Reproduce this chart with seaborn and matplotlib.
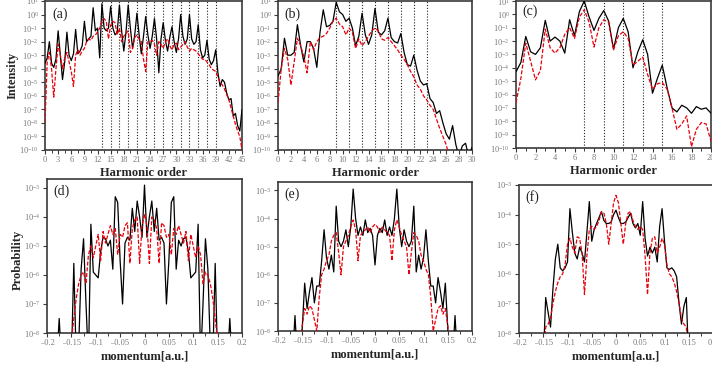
import numpy as np
import matplotlib
matplotlib.use("Agg")
import matplotlib.pyplot as plt
import seaborn as sns
from matplotlib.ticker import (FixedLocator, MultipleLocator, NullLocator,
                               LogFormatterMathtext, FuncFormatter)

# ---------------------------------------------------------------- data
# Harmonic spectra, log10 of intensity, sampled every half harmonic order
harm_a = np.arange(0, 45.5, 0.5)
a_black = [
    -3.6, -3.2, -2.0, -3.6, -3.9, -3.3, -1.2, -3.0, -4.8, -3.5,
    -1.3, -3.0, -3.4, -2.9, -1.1, -2.9, -2.7, -2.3, -0.5, -2.0,
    -1.8, -1.6, 0.5, -1.2, -1.0, -3.2, 0.8, -1.0, -1.2, -1.0,
    0.6, -1.0, -1.5, -1.3, 0.7, -1.2, -2.7, -1.3, 0.7, -1.0,
    -2.5, -1.5, 0.1, -1.5, -2.9, -1.6, -0.15, -1.5, -2.5, -1.6,
    -0.3, -1.8, -4.3, -1.8, -0.6, -1.9, -2.7, -1.7, -0.9, -2.0,
    -2.8, -1.8, 0.0, -1.6, -2.2, -1.8, 0.0, -1.8, -2.2, -2.0,
    -0.75, -2.6, -3.2, -3.0, -1.9, -3.3, -3.7, -3.4, -2.6, -4.3,
    -5.3, -4.8, -5.0, -5.8, -6.3, -6.2, -7.5, -7.3, -8.2, -8.6,
    -7.0,
]
a_red = [
    -8.0, -3.5, -2.8, -4.0, -6.1, -4.0, -2.2, -3.0, -4.0, -3.2,
    -2.8, -3.5, -4.2, -5.3, -3.0, -2.6, -3.0, -2.7, -2.5, -2.0,
    -1.8, -1.9, -1.6, -1.5, -1.3, -1.0, -0.5, -0.3, -0.5, -1.8,
    -0.8, -0.5, -0.6, -1.5, -1.0, -2.0, -1.6, -1.4, -1.2, -2.8,
    -2.5, -1.7, -1.5, -1.8, -2.0, -3.3, -4.2, -2.0, -2.0, -1.9,
    -2.2, -3.0, -2.0, -2.2, -2.5, -2.0, -1.8, -2.3, -2.6, -2.2,
    -2.1, -2.6, -2.4, -2.2, -2.0, -2.4, -2.7, -2.5, -2.6, -2.7,
    -2.9, -3.1, -3.3, -3.3, -3.5, -3.7, -4.0, -4.1, -4.2, -4.6,
    -5.0, -5.2, -5.5, -5.9, -6.3, -6.9, -7.5, -8.1, -8.6, -9.0,
    -10.0,
]
a_marks = [13, 15, 17, 19, 21, 23, 25, 27, 29, 31, 33, 35, 37, 39]

harm_b = np.arange(0, 30.5, 0.5)
b_black = [
    -4.55, -4.0, -1.75, -3.0, -3.0, -2.8, -0.75, -2.3, -3.5, -2.0,
    -2.0, -2.5, -3.9, -1.3, 0.35, -0.9, -0.8, -0.5, 0.9, 0.2,
    0.0, -0.5, -0.27, -1.0, -2.3, -1.6, 0.1, -1.5, -2.2, -1.5,
    0.45, -1.3, -1.5, -1.2, -0.27, -1.7, -2.0, -2.1, -1.4, -2.8,
    -3.7, -3.8, -3.0, -4.1, -4.9, -5.2, -5.1, -6.2, -6.5, -7.3,
    -7.1, -8.0, -8.8, -9.2, -8.2, -9.6, -10.5, -9.7, -9.5, -10.5,
    -9.8,
]
b_red = [
    -6.5, -4.0, -2.5, -3.3, -5.2, -3.5, -1.75, -2.3, -3.1, -4.3,
    -2.0, -2.6, -2.0, -1.7, -1.6, -1.4, -1.0, -0.5, -0.27, -0.7,
    -0.9, -1.5, -1.0, -1.3, -2.5, -1.8, -2.3, -2.0, -1.6, -1.2,
    -1.0, -1.2, -1.8, -1.9, -1.7, -2.0, -2.3, -2.6, -3.0, -3.3,
    -3.7, -4.2, -4.6, -5.2, -5.5, -6.0, -6.3, -6.7, -7.0, -7.7,
    -8.4, -9.0, -9.6, -10.5, -11.5, -12.0, -12.0, -12.0, -12.0, -12.0,
    -12.0,
]
b_marks = [9, 11, 13, 15, 17, 19, 21, 23]

harm_c = np.arange(0, 20.5, 0.5)
c_black = [
    -4.3, -3.6, -1.65, -2.8, -3.0, -2.5, -0.45, -2.0, -1.7, -2.0,
    -2.9, -0.4, -1.6, 0.2, 1.0, -0.2, -1.2, -0.3, 0.28, -0.5,
    -2.6, -1.0, -0.3, -1.3, -4.0, -2.8, -1.9, -3.0, -5.9, -4.8,
    -3.8, -5.5, -7.0, -7.3, -6.8, -7.0, -7.4, -6.9, -7.1, -7.0,
    -7.4,
]
c_red = [
    -6.6, -4.8, -2.15, -3.5, -4.9, -4.2, -1.1, -2.5, -2.9, -2.5,
    -1.5, -1.0, -1.8, -0.2, 0.35, -0.6, -2.45, -1.0, -0.4, -0.6,
    -2.65, -1.6, -1.3, -1.8, -3.8, -3.5, -3.2, -4.5, -5.6, -5.2,
    -5.1, -5.6, -7.0, -8.6, -8.2, -7.6, -9.9, -8.6, -8.1, -8.2,
    -9.5,
]
c_marks = [7, 9, 11, 13, 15]

# Photoelectron momentum distributions, log10 of probability
momentum = np.linspace(-0.2, 0.2, 81)
d_black = [
    -9, -9, -9, -9, -9, -7.5, -9, -9, -9, -9,
    -9, -5.6, -9, -8.5, -5.8, -4.75, -7.0, -9, -4.25, -5.9,
    -6.0, -6.1, -5.2, -4.7, -4.75, -5.0, -4.8, -5.8, -3.3, -3.5,
    -5.5, -7.0, -4.9, -4.7, -4.8, -3.7, -4.5, -3.45, -4.0, -4.7,
    -2.9,
    -4.7, -4.0, -3.45, -4.5, -3.7, -4.8, -4.7, -4.9, -7.0, -5.5,
    -3.5, -3.3, -5.8, -4.8, -5.0, -4.75, -4.7, -5.2, -6.1, -6.0,
    -5.9, -4.25, -9, -7.0, -4.75, -5.8, -8.5, -9, -5.6, -9,
    -9, -9, -9, -9, -7.5, -9, -9, -9, -9, -9,
]
d_red = [
    -9, -9, -9, -9, -9, -9, -9, -9, -9, -9,
    -8.3, -7.5, -6.8, -6.3, -6.0, -5.9, -6.3, -5.3, -5.0, -5.4,
    -5.0, -4.6, -5.5, -4.5, -4.9, -4.6, -4.3, -4.6, -4.4, -5.3,
    -4.6, -4.7, -4.3, -4.2, -5.6, -4.4, -4.1, -4.0, -5.6, -4.3,
    -3.9,
    -4.3, -5.6, -4.0, -4.1, -4.4, -5.6, -4.2, -4.3, -4.7, -4.6,
    -5.3, -4.4, -4.6, -4.3, -4.6, -4.9, -4.5, -5.5, -4.6, -5.0,
    -5.4, -5.0, -5.3, -6.3, -5.9, -6.0, -6.3, -6.8, -7.5, -8.3,
    -9, -9, -9, -9, -9, -9, -9, -9, -9, -9,
]
e_black = [
    -9, -9, -9, -9, -9, -9, -9, -7.45, -9, -9,
    -7.9, -6.3, -7.2, -6.6, -6.1, -7.0, -6.4, -6.4, -5.5, -4.4,
    -5.4, -5.8, -5.3, -5.9, -3.56, -4.8, -5.0, -4.8, -4.4, -5.0,
    -4.3, -2.95, -4.0, -4.6, -4.3, -4.6, -4.05, -4.5, -4.35, -4.6,
    -5.65,
    -4.6, -4.35, -4.5, -4.05, -4.6, -4.3, -4.6, -4.0, -2.95, -4.3,
    -5.0, -4.4, -4.8, -5.0, -4.8, -3.56, -5.9, -5.3, -5.8, -5.4,
    -4.4, -5.5, -6.4, -6.4, -7.0, -6.1, -6.6, -7.2, -6.3, -7.9,
    -9, -9, -7.45, -9, -9, -9, -9, -9, -9, -9,
]
e_red = [
    -9, -9, -9, -9, -9, -9, -9, -9, -9, -8.5,
    -7.8, -7.2, -7.4, -7.1, -7.2, -7.6, -8.0, -6.8, -6.0, -5.8,
    -5.5, -5.3, -4.8, -4.6, -4.5, -5.2, -6.0, -5.0, -4.8, -4.6,
    -4.3, -4.05, -4.4, -5.5, -4.6, -4.5, -4.4, -4.3, -4.5, -4.3,
    -4.2,
    -4.3, -4.5, -4.3, -4.4, -4.5, -4.6, -5.5, -4.4, -4.05, -4.3,
    -4.6, -4.8, -5.0, -6.0, -5.2, -4.5, -4.6, -4.8, -5.3, -5.5,
    -5.8, -6.0, -6.8, -8.0, -7.6, -7.2, -7.1, -7.4, -7.2, -7.8,
    -8.5, -9, -9, -9, -9, -9, -9, -9, -9, -9,
]
f_black = [
    -9, -9, -9, -9, -9, -9, -9, -9, -9, -9,
    -9, -6.8, -7.3, -7.8, -6.5, -5.5, -5.0, -5.8, -5.9, -5.8,
    -5.6, -3.8, -4.6, -5.3, -5.5, -5.1, -5.3, -5.6, -4.6, -3.56,
    -4.9, -4.5, -4.3, -4.1, -3.9, -4.2, -4.3, -4.3, -4.25, -4.0,
    -3.85,
    -4.1, -4.3, -4.3, -4.25, -4.1, -3.95, -4.3, -4.45, -4.3, -4.7,
    -3.56, -4.8, -5.4, -5.1, -5.3, -5.1, -5.6, -4.4, -3.8, -4.9,
    -5.8, -5.85, -5.8, -5.9, -6.1, -7.0, -7.7, -7.1, -6.8, -9,
    -9, -9, -9, -9, -9, -9, -9, -9, -9, -9,
]
f_red = [
    -9, -9, -9, -9, -9, -9, -9, -9, -9, -9,
    -9, -7.8, -7.7, -7.5, -7.0, -6.6, -6.3, -6.1, -6.0, -5.7,
    -5.0, -4.8, -5.1, -5.3, -4.75, -4.8, -5.3, -6.7, -5.4, -4.5,
    -4.4, -4.5, -4.4, -4.2, -3.9, -3.95, -4.3, -5.0, -4.3, -3.6,
    -3.35,
    -3.6, -4.3, -5.0, -4.3, -3.95, -3.9, -4.2, -4.4, -4.5, -4.4,
    -4.5, -5.4, -6.7, -5.3, -4.8, -4.75, -5.3, -5.1, -4.8, -5.0,
    -5.7, -6.0, -6.1, -6.3, -6.6, -7.0, -7.5, -7.7, -7.8, -9,
    -9, -9, -9, -9, -9, -9, -9, -9, -9, -9,
]

# ---------------------------------------------------------------- style
sns.set_theme(style="ticks")
plt.rcParams["font.family"] = ["Liberation Serif", "DejaVu Serif"]
plt.rcParams["mathtext.fontset"] = "custom"
plt.rcParams["mathtext.rm"] = "Liberation Serif"
plt.rcParams["mathtext.it"] = "Liberation Serif:italic"
plt.rcParams["mathtext.bf"] = "Liberation Serif:bold"

W, H = 712, 371
fig = plt.figure(figsize=(W / 100, H / 100), dpi=100)


def box(left, top, right, bottom):
    return [left / W, 1 - bottom / H, (right - left) / W, (bottom - top) / H]


TICK_GREY = "#7a7a7a"
FRAME = "#3a3a3a"


def momentum_label(v, pos):
    v = round(v, 3)
    if abs(v) < 1e-9:
        return "0"
    s = "%g" % abs(v)
    return ("\u2013" + s) if v < 0 else s


def draw(ax, x, black, red, xlim, ylim, major, minor, marks, tag, tag_y,
         xlabel, momentum_axis=False):
    sns.lineplot(x=x, y=10.0 ** np.asarray(black), ax=ax, color="black",
                 linewidth=0.9, zorder=3)
    sns.lineplot(x=x, y=10.0 ** np.asarray(red), ax=ax, color="#e8000b",
                 linewidth=0.9, zorder=4)
    ax.lines[-1].set_dashes([3.2, 1.4])
    for m in marks:
        ax.axvline(m, color="#222222", linestyle=(0, (1, 1.6)),
                   linewidth=0.8, zorder=2)
    ax.set_yscale("log")
    ax.set_xlim(*xlim)
    ax.set_ylim(*ylim)
    ax.xaxis.set_major_locator(MultipleLocator(major))
    ax.xaxis.set_minor_locator(MultipleLocator(minor))
    lo, hi = int(np.ceil(np.log10(ylim[0]) - 1e-9)), int(np.floor(np.log10(ylim[1]) + 1e-9))
    ax.yaxis.set_major_locator(FixedLocator([10.0 ** k for k in range(lo, hi + 1)]))
    ax.yaxis.set_minor_locator(NullLocator())
    ax.yaxis.set_major_formatter(LogFormatterMathtext())
    if momentum_axis:
        ax.xaxis.set_major_formatter(FuncFormatter(momentum_label))
    else:
        ax.xaxis.set_major_formatter(FuncFormatter(lambda v, p: "%d" % round(v)))
    ax.tick_params(axis="both", which="major", direction="out", length=3,
                   width=0.8, color=FRAME, labelsize=6, labelcolor=TICK_GREY,
                   pad=1.5)
    ax.tick_params(axis="x", which="minor", direction="out", length=2,
                   width=0.7, color=FRAME)
    for sp in ax.spines.values():
        sp.set_visible(True)
        sp.set_color(FRAME)
        sp.set_linewidth(1.2)
    ax.set_xlabel(xlabel, fontsize=9, fontweight="bold", labelpad=2)
    ax.set_ylabel("")
    ax.text(0.035, tag_y, tag, transform=ax.transAxes, fontsize=10,
            va="center", ha="left", color="#222222")


ax_a = fig.add_axes(box(45, 1, 242, 150))
draw(ax_a, harm_a, a_black, a_red, (0, 45), (1e-10, 1e1), 3, 1.5, a_marks,
     "(a)", 0.91, "Harmonic order")

ax_b = fig.add_axes(box(278, 1, 472, 150))
draw(ax_b, harm_b, b_black, b_red, (0, 30), (1e-10, 1e1), 2, 1, b_marks,
     "(b)", 0.91, "Harmonic order")

ax_c = fig.add_axes(box(516, 1, 711, 148))
draw(ax_c, harm_c, c_black, c_red, (0, 20), (1e-10, 1e1), 2, 1, c_marks,
     "(c)", 0.93, "Harmonic order")

ax_d = fig.add_axes(box(47, 179, 242, 333))
draw(ax_d, momentum, d_black, d_red, (-0.2, 0.2), (1e-8, 10 ** -2.69), 0.05,
     0.025, [], "(d)", 0.92, "momentum[a.u.]", momentum_axis=True)

ax_e = fig.add_axes(box(278, 182, 472, 331))
draw(ax_e, momentum, e_black, e_red, (-0.2, 0.2), (1e-8, 10 ** -2.7), 0.05,
     0.025, [], "(e)", 0.92, "momentum[a.u.]", momentum_axis=True)

ax_f = fig.add_axes(box(519, 185, 713, 333))
draw(ax_f, momentum, f_black, f_red, (-0.2, 0.2), (1e-8, 1e-3), 0.05,
     0.025, [], "(f)", 0.92, "momentum[a.u.]", momentum_axis=True)

fig.text(13 / W, 1 - 75 / H, "Intensity", rotation=90, fontsize=9,
         fontweight="bold", ha="center", va="center")
fig.text(18 / W, 1 - 260 / H, "Probability", rotation=90, fontsize=9,
         fontweight="bold", ha="center", va="center")

fig.savefig("out.png", dpi=100)
